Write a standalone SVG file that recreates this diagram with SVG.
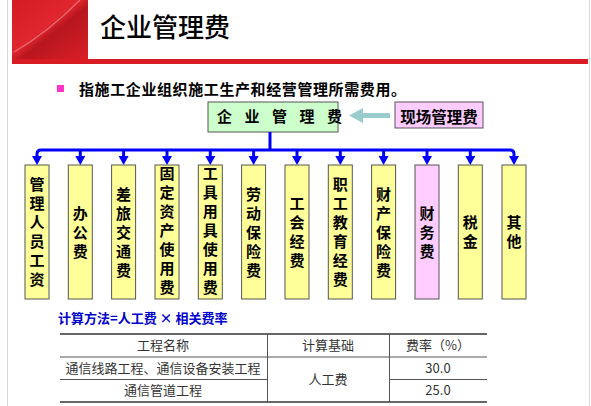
<svg xmlns="http://www.w3.org/2000/svg" width="591" height="406" viewBox="0 0 591 406">
<defs>
<linearGradient id="rg" x1="0" y1="0" x2="1" y2="1">
<stop offset="0" stop-color="#d41a22"/>
<stop offset="0.45" stop-color="#e0262e"/>
<stop offset="0.55" stop-color="#b8161d"/>
<stop offset="1" stop-color="#da1f27"/>
</linearGradient>
</defs>
<style>
.cjk{font-family:"Noto Sans CJK SC","Noto Sans",sans-serif;}
.b{font-weight:bold;}
.box{fill:#ffff99;stroke:#555;stroke-width:1;}
.vt{font-family:"Noto Sans CJK SC",sans-serif;font-weight:bold;font-size:15px;fill:#000;text-anchor:middle;}
.tb{font-family:"Noto Sans CJK SC",sans-serif;font-size:13px;fill:#333;text-anchor:middle;}
.conn{fill:none;stroke:#0000ff;stroke-width:3;}
</style>
<rect x="0" y="0" width="591" height="406" fill="#ffffff"/>
<line x1="7.5" y1="0" x2="7.5" y2="406" stroke="#d8d8d8" stroke-width="1"/>
<line x1="589.5" y1="0" x2="589.5" y2="406" stroke="#d8d8d8" stroke-width="1"/>
<g id="header">
<rect x="12" y="0" width="76" height="60" fill="url(#rg)"/>
<path d="M14,52 C35,40 55,25 80,0" stroke="#f2a0a4" stroke-width="1.2" fill="none" opacity="0.6"/>
<rect x="12" y="59" width="576" height="5" fill="#d91c24"/>
<text x="100" y="37" class="cjk" font-size="26" font-weight="500" fill="#000">企业管理费</text>
</g>
<g id="bullet">
<rect x="57" y="85" width="7" height="7" fill="#ff33cc"/>
<text x="79" y="95" class="cjk b" font-size="15" letter-spacing="0.6" fill="#000">指施工企业组织施工生产和经营管理所需费用。</text>
</g>
<g id="n-main">
<rect x="208" y="102" width="130" height="30" fill="#ccffcc" stroke="#555" stroke-width="1"/>
<text x="217" y="122" class="cjk b" font-size="15" letter-spacing="12.5" fill="#000">企业管理费</text>
</g>
<g id="n-site">
<rect x="395" y="102" width="88" height="26" fill="#ffccff" stroke="#555" stroke-width="1"/>
<text x="439" y="123" class="cjk b" font-size="15.5" text-anchor="middle" fill="#000">现场管理费</text>
</g>
<g id="connectors">
<path d="M390,115.5 L362,115.5" stroke="#99cccc" stroke-width="5" fill="none"/>
<path d="M363,108 L349,115.5 L363,123 Z" fill="#99cccc"/>
<path class="conn" d="M270,132 L270,150"/>
<path class="conn" d="M37,158 L37,154 Q37,150 41,150 L510,150 Q514,150 514,154 L514,158"/>
<g stroke="#0000ff" stroke-width="3" fill="none">
<line x1="80.3" y1="150" x2="80.3" y2="158"/>
<line x1="123.6" y1="150" x2="123.6" y2="158"/>
<line x1="167" y1="150" x2="167" y2="158"/>
<line x1="210.3" y1="150" x2="210.3" y2="158"/>
<line x1="253.6" y1="150" x2="253.6" y2="158"/>
<line x1="297" y1="150" x2="297" y2="158"/>
<line x1="340.3" y1="150" x2="340.3" y2="158"/>
<line x1="383.6" y1="150" x2="383.6" y2="158"/>
<line x1="427" y1="150" x2="427" y2="158"/>
<line x1="470.3" y1="150" x2="470.3" y2="158"/>
</g>
<g fill="#0000ff">
<path d="M32,156 L42,156 L37,165 Z"/>
<path d="M75.3,156 L85.3,156 L80.3,165 Z"/>
<path d="M118.6,156 L128.6,156 L123.6,165 Z"/>
<path d="M162,156 L172,156 L167,165 Z"/>
<path d="M205.3,156 L215.3,156 L210.3,165 Z"/>
<path d="M248.6,156 L258.6,156 L253.6,165 Z"/>
<path d="M292,156 L302,156 L297,165 Z"/>
<path d="M335.3,156 L345.3,156 L340.3,165 Z"/>
<path d="M378.6,156 L388.6,156 L383.6,165 Z"/>
<path d="M422,156 L432,156 L427,165 Z"/>
<path d="M465.3,156 L475.3,156 L470.3,165 Z"/>
<path d="M509,156 L519,156 L514,165 Z"/>
</g>
</g>
<g id="n1"><rect class="box" x="25" y="165" width="24" height="134"/>
<text class="vt" x="37" y="190"><tspan x="37">管</tspan><tspan x="37" dy="19">理</tspan><tspan x="37" dy="19">人</tspan><tspan x="37" dy="19">员</tspan><tspan x="37" dy="19">工</tspan><tspan x="37" dy="19">资</tspan></text></g>
<g id="n2"><rect class="box" x="68.3" y="165" width="24" height="134"/>
<text class="vt" x="80.3" y="219"><tspan x="80.3">办</tspan><tspan x="80.3" dy="19">公</tspan><tspan x="80.3" dy="19">费</tspan></text></g>
<g id="n3"><rect class="box" x="111.6" y="165" width="24" height="134"/>
<text class="vt" x="123.6" y="200"><tspan x="123.6">差</tspan><tspan x="123.6" dy="19">旅</tspan><tspan x="123.6" dy="19">交</tspan><tspan x="123.6" dy="19">通</tspan><tspan x="123.6" dy="19">费</tspan></text></g>
<g id="n4"><rect class="box" x="155" y="165" width="24" height="134"/>
<text class="vt" x="167" y="179"><tspan x="167">固</tspan><tspan x="167" dy="19">定</tspan><tspan x="167" dy="19">资</tspan><tspan x="167" dy="19">产</tspan><tspan x="167" dy="19">使</tspan><tspan x="167" dy="19">用</tspan><tspan x="167" dy="19">费</tspan></text></g>
<g id="n5"><rect class="box" x="198.3" y="165" width="24" height="134"/>
<text class="vt" x="210.3" y="179"><tspan x="210.3">工</tspan><tspan x="210.3" dy="19">具</tspan><tspan x="210.3" dy="19">用</tspan><tspan x="210.3" dy="19">具</tspan><tspan x="210.3" dy="19">使</tspan><tspan x="210.3" dy="19">用</tspan><tspan x="210.3" dy="19">费</tspan></text></g>
<g id="n6"><rect class="box" x="241.6" y="165" width="24" height="134"/>
<text class="vt" x="253.6" y="200"><tspan x="253.6">劳</tspan><tspan x="253.6" dy="19">动</tspan><tspan x="253.6" dy="19">保</tspan><tspan x="253.6" dy="19">险</tspan><tspan x="253.6" dy="19">费</tspan></text></g>
<g id="n7"><rect class="box" x="285" y="165" width="24" height="134"/>
<text class="vt" x="297" y="209"><tspan x="297">工</tspan><tspan x="297" dy="19">会</tspan><tspan x="297" dy="19">经</tspan><tspan x="297" dy="19">费</tspan></text></g>
<g id="n8"><rect class="box" x="328.3" y="165" width="24" height="134"/>
<text class="vt" x="340.3" y="190"><tspan x="340.3">职</tspan><tspan x="340.3" dy="19">工</tspan><tspan x="340.3" dy="19">教</tspan><tspan x="340.3" dy="19">育</tspan><tspan x="340.3" dy="19">经</tspan><tspan x="340.3" dy="19">费</tspan></text></g>
<g id="n9"><rect class="box" x="371.6" y="165" width="24" height="134"/>
<text class="vt" x="383.6" y="200"><tspan x="383.6">财</tspan><tspan x="383.6" dy="19">产</tspan><tspan x="383.6" dy="19">保</tspan><tspan x="383.6" dy="19">险</tspan><tspan x="383.6" dy="19">费</tspan></text></g>
<g id="n10"><rect x="415" y="165" width="24" height="134" fill="#ffccff" stroke="#555" stroke-width="1"/>
<text class="vt" x="427" y="219"><tspan x="427">财</tspan><tspan x="427" dy="19">务</tspan><tspan x="427" dy="19">费</tspan></text></g>
<g id="n11"><rect class="box" x="458.3" y="165" width="24" height="134"/>
<text class="vt" x="470.3" y="228"><tspan x="470.3">税</tspan><tspan x="470.3" dy="19">金</tspan></text></g>
<g id="n12"><rect class="box" x="502" y="165" width="24" height="134"/>
<text class="vt" x="514" y="228"><tspan x="514">其</tspan><tspan x="514" dy="19">他</tspan></text></g>
<g id="formula">
<text x="58" y="323" class="cjk b" font-size="13" fill="#0000cc">计算方法=人工费 × 相关费率</text>
</g>
<g id="table">
<line x1="60" y1="334" x2="487" y2="334" stroke="#333" stroke-width="1.5"/>
<line x1="60" y1="357" x2="487" y2="357" stroke="#555" stroke-width="1"/>
<line x1="60" y1="379.5" x2="267" y2="379.5" stroke="#555" stroke-width="1"/>
<line x1="389" y1="379.5" x2="487" y2="379.5" stroke="#555" stroke-width="1"/>
<line x1="60" y1="402" x2="487" y2="402" stroke="#333" stroke-width="1.5"/>
<line x1="267.5" y1="334" x2="267.5" y2="402" stroke="#555" stroke-width="1"/>
<line x1="389.5" y1="334" x2="389.5" y2="402" stroke="#555" stroke-width="1"/>
<text class="tb" x="163" y="350">工程名称</text>
<text class="tb" x="328" y="350">计算基础</text>
<text class="tb" x="438" y="350">费率（%）</text>
<text class="tb" x="163" y="373">通信线路工程、通信设备安装工程</text>
<text class="tb" x="163" y="395">通信管道工程</text>
<text class="tb" x="328" y="384">人工费</text>
<text class="tb" x="438" y="373">30.0</text>
<text class="tb" x="438" y="395">25.0</text>
</g>
</svg>
